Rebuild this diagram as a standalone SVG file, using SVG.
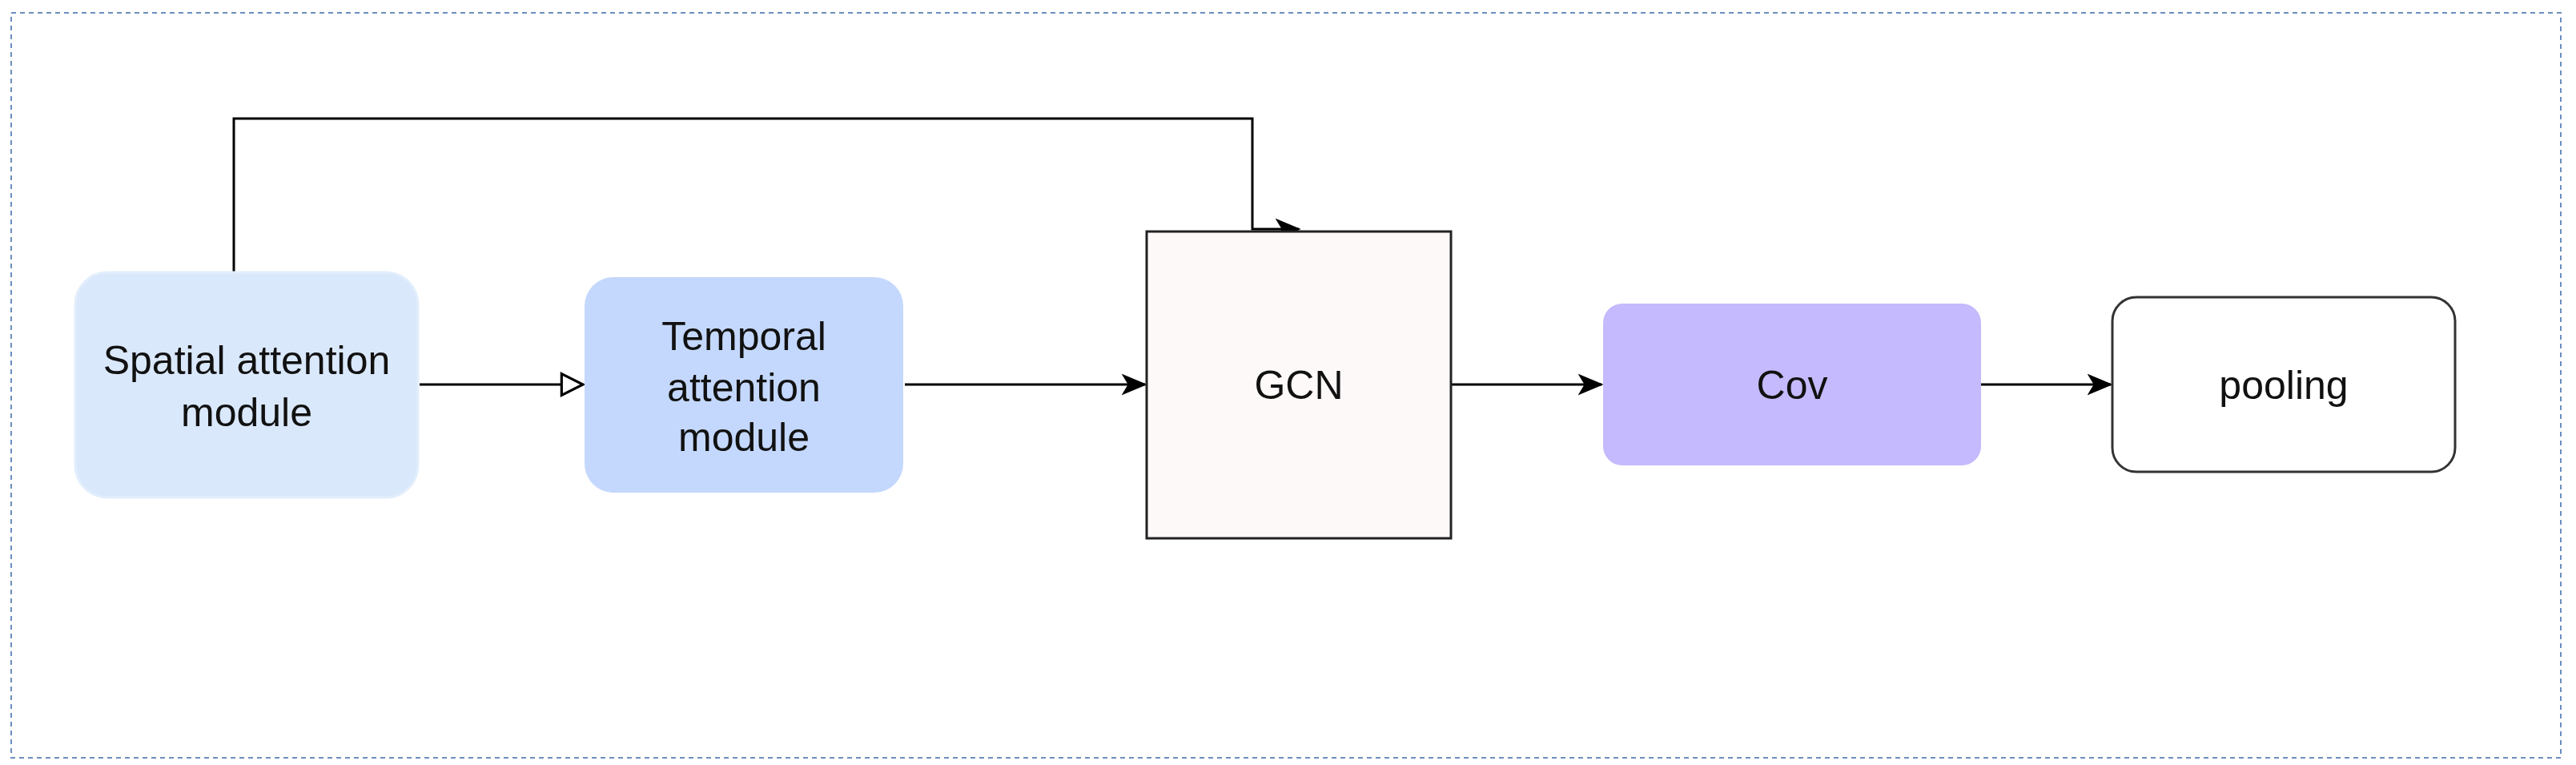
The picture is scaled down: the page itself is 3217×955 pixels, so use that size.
<svg xmlns="http://www.w3.org/2000/svg" width="3217" height="955" viewBox="0 0 3217 955">
<defs>
<style>
text{font-family:"Liberation Sans",Arial,sans-serif;font-size:50px;fill:#111;text-anchor:middle}
.c{fill:none;stroke:#000;stroke-width:3}
</style>
<marker id="a" markerWidth="10" markerHeight="10" refX="9" refY="5" orient="auto" markerUnits="userSpaceOnUse" viewBox="0 0 10 10"><path d="M0 0L10 5L0 10L3 5Z" fill="#000"/></marker>
<marker id="o" viewBox="0 0 12 12" markerWidth="32" markerHeight="32" refX="11" refY="6" orient="auto" markerUnits="userSpaceOnUse"><path d="M1 1L11 6L1 11Z" fill="#fff" stroke="#000" stroke-width="1.2"/></marker>
<marker id="f" viewBox="0 0 12 12" markerWidth="32" markerHeight="32" refX="11" refY="6" orient="auto" markerUnits="userSpaceOnUse"><path d="M0 1L12 6L0 11L3 6Z" fill="#000"/></marker>
</defs>
<rect x="14" y="16" width="3184" height="930" fill="none" stroke="#6c8ebf" stroke-width="2" stroke-dasharray="6 5"/>
<g id="connectors">
<path class="c" d="M292 340V148H1564V286H1622" marker-end="url(#f)"/>
<path class="c" d="M524 480H728" marker-end="url(#o)"/>
<path class="c" d="M1130 480H1430" marker-end="url(#f)"/>
<path class="c" d="M1812 480H2000" marker-end="url(#f)"/>
<path class="c" d="M2474 480H2636" marker-end="url(#f)"/>
</g>
<g id="spatial"><rect x="94" y="340" width="428" height="281" rx="40" fill="#dae8fc" stroke="#e3eefc" stroke-width="3"/>
<text x="308" y="467">Spatial attention</text><text x="308" y="532">module</text></g>
<g id="temporal"><rect x="730" y="346" width="398" height="269" rx="36" fill="#c4d8fd"/>
<text x="929" y="437">Temporal</text><text x="929" y="501">attention</text><text x="929" y="563">module</text></g>
<g id="gcn"><rect x="1432" y="289" width="380" height="383" fill="#fdf9f8" stroke="#222" stroke-width="3"/>
<text x="1622" y="498">GCN</text></g>
<g id="cov"><rect x="2002" y="379" width="472" height="202" rx="24" fill="#c5bafd"/>
<text x="2238" y="498">Cov</text></g>
<g id="pooling"><rect x="2638" y="371" width="428" height="218" rx="30" fill="#fff" stroke="#333" stroke-width="3"/>
<text x="2852" y="498">pooling</text></g>
</svg>
